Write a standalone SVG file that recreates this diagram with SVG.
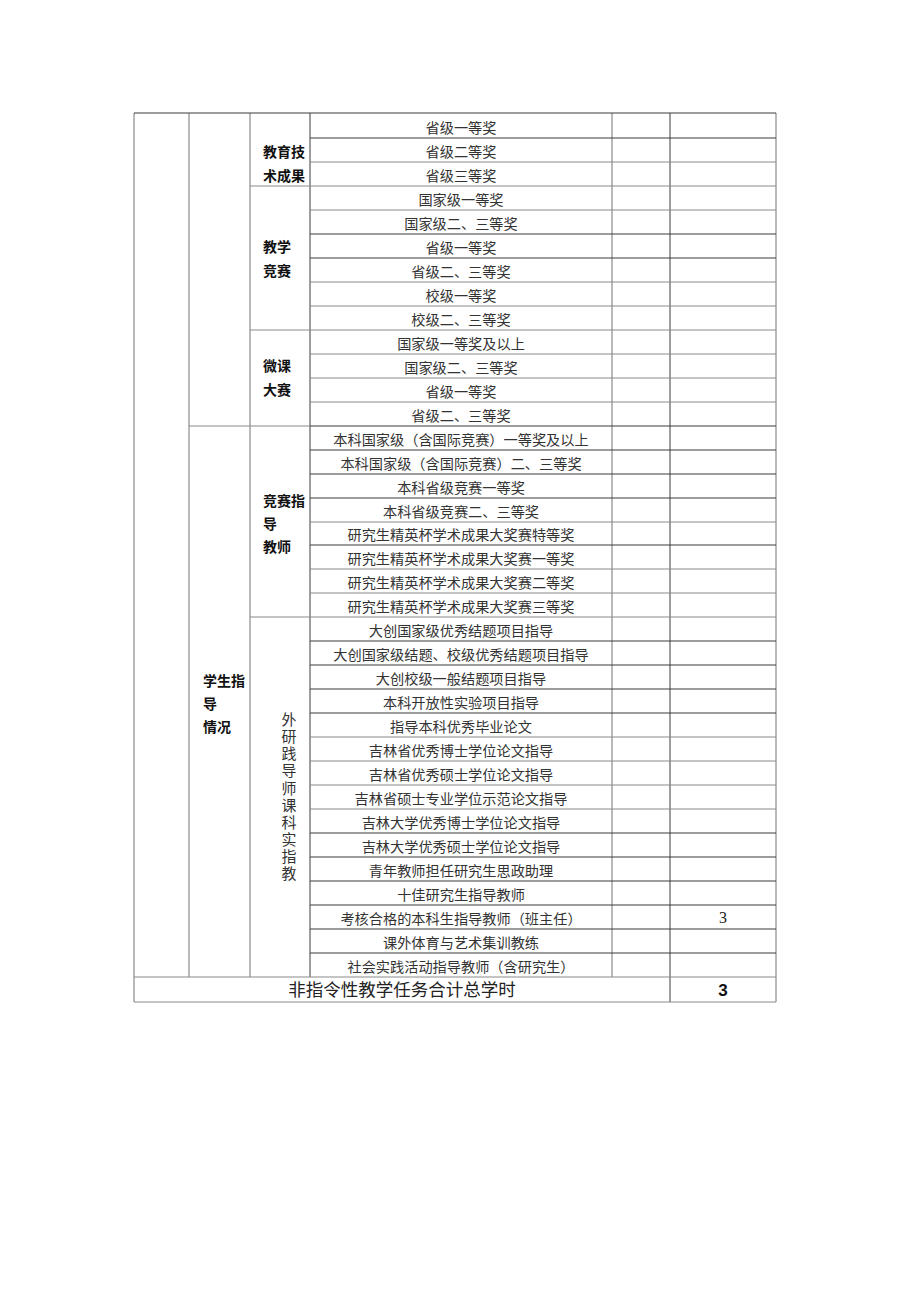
<svg xmlns="http://www.w3.org/2000/svg" width="920" height="1301" viewBox="0 0 920 1301">
<style>
.bg{fill:#fff}
.hl{stroke:#3a3a3a;stroke-width:1;fill:none}
.gl{stroke:#8a8a8a;stroke-width:1.2;fill:none}
.it{font-family:"Noto Sans CJK SC","Liberation Serif",serif;font-size:14.2px;fill:#333;text-anchor:middle}
.lb{font-family:"Noto Sans CJK SC","Liberation Sans",sans-serif;font-size:14px;font-weight:bold;fill:#111}
.vt{font-family:"Noto Sans CJK SC","Liberation Serif",serif;font-size:15px;fill:#333;writing-mode:tb;glyph-orientation-vertical:0;letter-spacing:2.1px}
.tot{font-family:"Noto Sans CJK SC","Liberation Sans",sans-serif;font-size:17.5px;fill:#222;text-anchor:middle}
</style>
<rect class="bg" x="0" y="0" width="920" height="1301"/>
<g id="grid">
<line class="gl" x1="134" y1="113" x2="134" y2="1002"/>
<line class="gl" x1="189" y1="113" x2="189" y2="977"/>
<line class="gl" x1="250" y1="113" x2="250" y2="977"/>
<line class="hl" x1="310" y1="113" x2="310" y2="977"/>
<line class="gl" x1="612" y1="113" x2="612" y2="977"/>
<line class="hl" x1="670" y1="113" x2="670" y2="1002"/>
<line class="gl" x1="776" y1="113" x2="776" y2="1002"/>
<line class="hl" x1="134" y1="113" x2="776" y2="113"/>
<line class="gl" x1="134" y1="1002" x2="776" y2="1002"/>
<line class="gl" x1="134" y1="977" x2="776" y2="977"/>
<line class="gl" x1="250" y1="186" x2="310" y2="186"/>
<line class="gl" x1="250" y1="330" x2="310" y2="330"/>
<line class="gl" x1="189" y1="426" x2="310" y2="426"/>
<line class="gl" x1="250" y1="617" x2="310" y2="617"/>
<line class="hl" x1="310" y1="138" x2="776" y2="138"/>
<line class="gl" x1="310" y1="162" x2="776" y2="162"/>
<line class="gl" x1="310" y1="186" x2="776" y2="186"/>
<line class="gl" x1="310" y1="210" x2="776" y2="210"/>
<line class="hl" x1="310" y1="234" x2="776" y2="234"/>
<line class="hl" x1="310" y1="258" x2="776" y2="258"/>
<line class="gl" x1="310" y1="282" x2="776" y2="282"/>
<line class="gl" x1="310" y1="306" x2="776" y2="306"/>
<line class="gl" x1="310" y1="330" x2="776" y2="330"/>
<line class="gl" x1="310" y1="354" x2="776" y2="354"/>
<line class="gl" x1="310" y1="378" x2="776" y2="378"/>
<line class="gl" x1="310" y1="402" x2="776" y2="402"/>
<line class="hl" x1="310" y1="426" x2="776" y2="426"/>
<line class="hl" x1="310" y1="450" x2="776" y2="450"/>
<line class="hl" x1="310" y1="474" x2="776" y2="474"/>
<line class="hl" x1="310" y1="498" x2="776" y2="498"/>
<line class="gl" x1="310" y1="522" x2="776" y2="522"/>
<line class="hl" x1="310" y1="545" x2="776" y2="545"/>
<line class="gl" x1="310" y1="569" x2="776" y2="569"/>
<line class="gl" x1="310" y1="593" x2="776" y2="593"/>
<line class="gl" x1="310" y1="617" x2="776" y2="617"/>
<line class="hl" x1="310" y1="641" x2="776" y2="641"/>
<line class="hl" x1="310" y1="665" x2="776" y2="665"/>
<line class="hl" x1="310" y1="689" x2="776" y2="689"/>
<line class="hl" x1="310" y1="713" x2="776" y2="713"/>
<line class="gl" x1="310" y1="737" x2="776" y2="737"/>
<line class="gl" x1="310" y1="761" x2="776" y2="761"/>
<line class="gl" x1="310" y1="785" x2="776" y2="785"/>
<line class="gl" x1="310" y1="809" x2="776" y2="809"/>
<line class="hl" x1="310" y1="833" x2="776" y2="833"/>
<line class="hl" x1="310" y1="857" x2="776" y2="857"/>
<line class="hl" x1="310" y1="881" x2="776" y2="881"/>
<line class="hl" x1="310" y1="905" x2="776" y2="905"/>
<line class="hl" x1="310" y1="929" x2="776" y2="929"/>
<line class="hl" x1="310" y1="953" x2="776" y2="953"/>
</g>
<g id="labels">
<text class="lb" x="263" y="157">教育技</text>
<text class="lb" x="263" y="181">术成果</text>
<text class="lb" x="263" y="252">教学</text>
<text class="lb" x="263" y="276">竞赛</text>
<text class="lb" x="263" y="371">微课</text>
<text class="lb" x="263" y="395">大赛</text>
<text class="lb" x="263" y="506">竞赛指</text>
<text class="lb" x="263" y="529">导</text>
<text class="lb" x="263" y="552">教师</text>
<text class="lb" x="203" y="686">学生指</text>
<text class="lb" x="203" y="709">导</text>
<text class="lb" x="203" y="732">情况</text>
</g>
<g id="vertical-label">
<text class="vt" x="289" y="712">外研践导师课科实指教</text>
</g>
<g id="items">
<text class="it" x="461" y="133">省级一等奖</text>
<text class="it" x="461" y="157">省级二等奖</text>
<text class="it" x="461" y="181">省级三等奖</text>
<text class="it" x="461" y="205">国家级一等奖</text>
<text class="it" x="461" y="229">国家级二、三等奖</text>
<text class="it" x="461" y="253">省级一等奖</text>
<text class="it" x="461" y="277">省级二、三等奖</text>
<text class="it" x="461" y="301">校级一等奖</text>
<text class="it" x="461" y="325">校级二、三等奖</text>
<text class="it" x="461" y="349">国家级一等奖及以上</text>
<text class="it" x="461" y="373">国家级二、三等奖</text>
<text class="it" x="461" y="397">省级一等奖</text>
<text class="it" x="461" y="421">省级二、三等奖</text>
<text class="it" x="461" y="445">本科国家级（含国际竞赛）一等奖及以上</text>
<text class="it" x="461" y="469">本科国家级（含国际竞赛）二、三等奖</text>
<text class="it" x="461" y="493">本科省级竞赛一等奖</text>
<text class="it" x="461" y="517">本科省级竞赛二、三等奖</text>
<text class="it" x="461" y="540">研究生精英杯学术成果大奖赛特等奖</text>
<text class="it" x="461" y="564">研究生精英杯学术成果大奖赛一等奖</text>
<text class="it" x="461" y="588">研究生精英杯学术成果大奖赛二等奖</text>
<text class="it" x="461" y="612">研究生精英杯学术成果大奖赛三等奖</text>
<text class="it" x="461" y="636">大创国家级优秀结题项目指导</text>
<text class="it" x="461" y="660">大创国家级结题、校级优秀结题项目指导</text>
<text class="it" x="461" y="684">大创校级一般结题项目指导</text>
<text class="it" x="461" y="708">本科开放性实验项目指导</text>
<text class="it" x="461" y="732">指导本科优秀毕业论文</text>
<text class="it" x="461" y="756">吉林省优秀博士学位论文指导</text>
<text class="it" x="461" y="780">吉林省优秀硕士学位论文指导</text>
<text class="it" x="461" y="804">吉林省硕士专业学位示范论文指导</text>
<text class="it" x="461" y="828">吉林大学优秀博士学位论文指导</text>
<text class="it" x="461" y="852">吉林大学优秀硕士学位论文指导</text>
<text class="it" x="461" y="876">青年教师担任研究生思政助理</text>
<text class="it" x="461" y="900">十佳研究生指导教师</text>
<text class="it" x="461" y="924">考核合格的本科生指导教师（班主任）</text>
<text class="it" x="461" y="948">课外体育与艺术集训教练</text>
<text class="it" x="461" y="972">社会实践活动指导教师（含研究生）</text>
<text x="723" y="923" style="font-family:'Liberation Serif',serif;font-size:16px;fill:#222;text-anchor:middle">3</text>
</g>
<g id="total">
<text class="tot" x="402" y="996">非指令性教学任务合计总学时</text>
<text x="723" y="996" style="font-family:'Liberation Sans',sans-serif;font-size:17px;font-weight:bold;fill:#111;text-anchor:middle">3</text>
</g>
</svg>
